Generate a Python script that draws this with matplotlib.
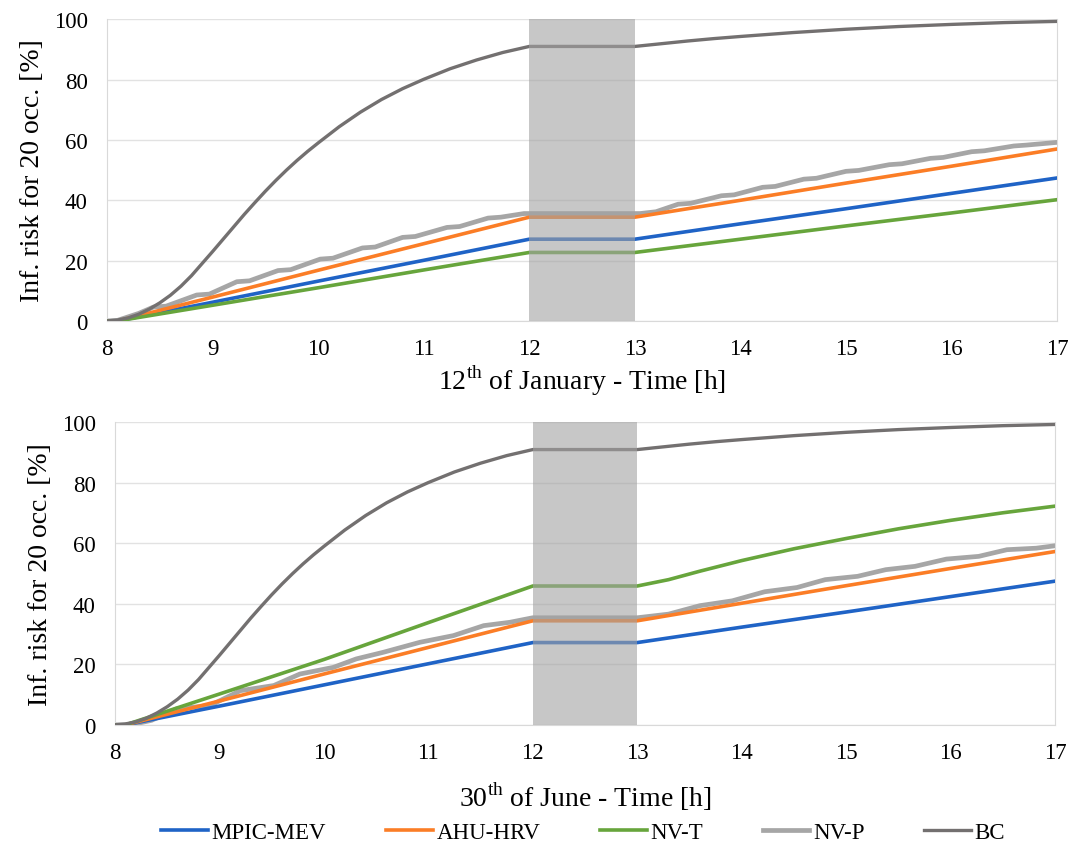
import numpy as np
import matplotlib
matplotlib.use("Agg")
import matplotlib.pyplot as plt

plt.rcParams['font.family'] = ['Liberation Serif', 'DejaVu Serif']
plt.rcParams['mathtext.fontset'] = 'custom'
plt.rcParams['mathtext.rm'] = 'Liberation Serif'

# ---- data: time [h] / infection risk [%] ----
bc_t = [8, 8.1, 8.2, 8.3, 8.4, 8.5, 8.6, 8.7, 8.8, 8.9, 9.0, 9.1, 9.2, 9.3, 9.4, 9.5,
        9.6, 9.7, 9.8, 9.9, 10.0, 10.2, 10.4, 10.6, 10.8, 11.0, 11.25, 11.5, 11.75, 12,
        13, 13.25, 13.5, 13.75, 14, 14.5, 15, 15.5, 16, 16.5, 17]
bc_v = [0, 0.3, 1.0, 2.2, 3.9, 6.0, 8.5, 11.5, 15, 19, 23, 27.1, 31.2, 35.3, 39.2, 43.0,
        46.6, 50.0, 53.2, 56.2, 59.0, 64.4, 69.2, 73.4, 77.0, 80.1, 83.6, 86.5, 89, 91,
        91, 91.9, 92.8, 93.6, 94.3, 95.6, 96.7, 97.6, 98.3, 98.9, 99.3]

lin_t = [8, 8.1, 9, 10, 11, 12, 13, 14, 15, 16, 17]

# 12th of January
jan_mpic = [0, 0, 6.2, 13.2, 20.1, 27.1, 27.1, 32.2, 37.2, 42.3, 47.4]
jan_ahu = [0, 0, 7.9, 16.8, 25.6, 34.4, 34.4, 40.0, 45.7, 51.3, 57.0]
jan_nvt = [0, 0, 5.2, 11.0, 16.9, 22.7, 22.7, 27.1, 31.5, 35.8, 40.2]
jan_nvp_t = [8, 8.1, 8.3, 8.44, 8.56, 8.85, 8.97, 9.23, 9.35, 9.62, 9.74, 10.02, 10.14,
             10.42, 10.54, 10.8, 10.92, 11.22, 11.34, 11.61, 11.73, 11.95, 13.05, 13.2,
             13.41, 13.53, 13.82, 13.94, 14.21, 14.33, 14.6, 14.72, 15.0, 15.12, 15.41,
             15.53, 15.8, 15.92, 16.19, 16.31, 16.59, 16.71, 17.0]
jan_nvp_v = [0, 0.2, 2.5, 4.6, 4.9, 8.6, 8.9, 13, 13.3, 16.7, 17, 20.5, 20.8,
             24.2, 24.5, 27.7, 28, 31, 31.3, 34.1, 34.4, 35.6, 35.6, 36.2,
             38.7, 39, 41.5, 41.8, 44.3, 44.6, 47, 47.3, 49.6, 49.9, 51.8,
             52.1, 53.9, 54.2, 56.1, 56.4, 58, 58.3, 59.2]

# 30th of June
jun_mpic = [0, 0, 6.2, 13.2, 20.2, 27.2, 27.2, 32.3, 37.3, 42.4, 47.5]
jun_ahu = [0, 0, 7.9, 16.8, 25.6, 34.4, 34.4, 40.2, 46.0, 51.7, 57.3]
jun_nvt_t = [8, 8.1, 9, 10, 11, 12, 13, 13.3, 13.6, 14, 14.5, 15, 15.5, 16, 16.5, 17]
jun_nvt = [0, 0, 10.2, 21.6, 33.8, 45.9, 45.9, 48, 50.8, 54.3, 58.2, 61.6, 64.8,
           67.6, 70.1, 72.3]
jun_nvp_t = [8, 8.15, 8.35, 8.59, 8.91, 9.2, 9.52, 9.77, 10.09, 10.31, 10.57, 10.92,
             11.24, 11.53, 11.78, 12.0, 13.0, 13.3, 13.6, 13.91, 14.22, 14.53, 14.8,
             15.11, 15.38, 15.66, 15.96, 16.27, 16.54, 16.82, 17.0]
jun_nvp_v = [0, 0, 1.5, 5.3, 6.4, 11.3, 13, 16.8, 19, 21.8, 24, 27.3,
             29.5, 32.8, 33.9, 35.4, 35.4, 36.6, 39.4, 41, 44, 45.4, 48,
             49.1, 51.3, 52.4, 54.8, 55.7, 57.9, 58.4, 59.2]

names = ['MPIC-MEV', 'AHU-HRV', 'NV-T', 'NV-P', 'BC']
colors = ['#1f63c6', '#fb7d26', '#67a53c', '#a6a6a6', '#737070']

fig = plt.figure(figsize=(10.7, 8.45), dpi=100)
ax1 = fig.add_axes([0.100, 0.619, 0.888, 0.357])
ax2 = fig.add_axes([0.1075, 0.141, 0.8785, 0.358])


def draw(ax, mpic, ahu, nvt_t, nvt, nvp_t, nvp_v, xlabel, xpad):
    ax.plot(lin_t, mpic, color=colors[0], lw=2.6, label=names[0], zorder=3)
    ax.plot(lin_t, ahu, color=colors[1], lw=2.6, label=names[1], zorder=3)
    ax.plot(nvt_t, nvt, color=colors[2], lw=2.6, label=names[2], zorder=3)
    ax.plot(nvp_t, nvp_v, color=colors[3], lw=3.4, label=names[3], zorder=2)
    ax.plot(bc_t, bc_v, color=colors[4], lw=2.4, label=names[4], zorder=3)
    ax.axvspan(12, 13, color='#a2a2a2', alpha=0.6, lw=0, zorder=4)
    ax.set_xlim(8, 17)
    ax.set_ylim(0, 100)
    ax.set_xticks(range(8, 18))
    ax.set_yticks(range(0, 101, 20))
    ax.tick_params(length=0, labelsize=16.5)
    ax.tick_params(axis='x', pad=12)
    ax.tick_params(axis='y', pad=14)
    ax.grid(axis='y', color='#e2e2e2', lw=1)
    ax.set_axisbelow(True)
    ax.spines['top'].set_visible(False)
    for s in ['left', 'right', 'bottom']:
        ax.spines[s].set_color('#d9d9d9')
    ax.set_ylabel('Inf. risk for 20 occ. [%]', fontsize=20, labelpad=6)
    ax.set_xlabel(xlabel, fontsize=20, labelpad=xpad)


draw(ax1, jan_mpic, jan_ahu, lin_t, jan_nvt, jan_nvp_t, jan_nvp_v,
     r'12$^{\mathrm{th}}$ of January - Time [h]', 3)
draw(ax2, jun_mpic, jun_ahu, jun_nvt_t, jun_nvt, jun_nvp_t, jun_nvp_v,
     r'30$^{\mathrm{th}}$ of June - Time [h]', 12)

h, l = ax2.get_legend_handles_labels()
fig.legend(h, l, loc='center', bbox_to_anchor=(0.545, 0.014), ncol=5, frameon=False,
           handlelength=2.05, columnspacing=2.6, handletextpad=0.15,
           prop={'size': 16.5})

fig.savefig('out.png', dpi=100)
